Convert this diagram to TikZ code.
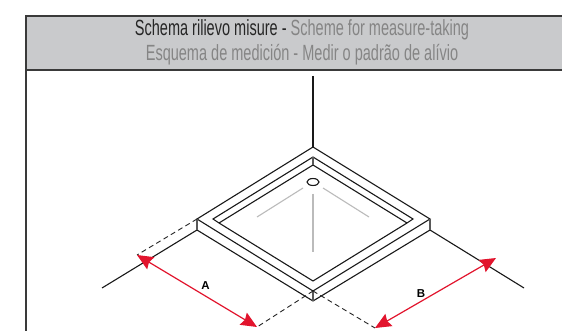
\documentclass[tikz,border=0pt]{standalone}
\usepackage{fontspec}
\setmainfont{Liberation Sans}
\newfontfamily\narrowfont[FakeStretch=0.66]{Liberation Sans}
\usetikzlibrary{arrows.meta,shapes.geometric}
\definecolor{hdrgray}{HTML}{C9CACC}
\definecolor{hdrtext}{HTML}{858585}
\definecolor{dimred}{HTML}{E2142D}
\definecolor{ruleline}{HTML}{3A3A3A}
\definecolor{drain}{HTML}{BBBBBB}
\tikzset{
  edge/.style={draw=black!90,line width=1.1pt,line join=miter},
  post/.style={draw=black!65,line width=1.1pt},
  ext/.style={draw=black!85,line width=0.9pt,dash pattern=on 5pt off 3.5pt},
  slope/.style={draw=drain,line width=1.1pt},
  dim/.style={draw=dimred,line width=1.2pt,{Stealth[length=16pt,width=14pt,inset=2pt]}-{Stealth[length=16pt,width=14pt,inset=2pt]}},
  title/.style={font=\narrowfont\fontsize{22}{24}\selectfont,anchor=center,inner sep=0pt},
  letter/.style={font=\bfseries\fontsize{11.5}{13}\selectfont,inner sep=0pt}
}
\begin{document}
\begin{tikzpicture}[x=1pt,y=-1pt]
\useasboundingbox[fill=white] (0,0) rectangle (562,331);
% header and frame
\fill[hdrgray] (26,16) rectangle (562,70);
\draw[ruleline,line width=1.2pt] (562,16) -- (26,16) -- (26,331);
\draw[ruleline,line width=1.2pt] (26,70) -- (562,70);
\node[title] (t1) at (302,30) {\textcolor{black!85}{Schema rilievo misure - }\textcolor{hdrtext}{Scheme for measure-taking}};
\node[title,text=hdrtext] (t2) at (302,55) {Esquema de medición - Medir o padrão de alívio};
% coordinates
\coordinate (wall) at (313,76);
\coordinate (T) at (313,147);
\coordinate (L) at (197,219);
\coordinate (R) at (430,219);
\coordinate (B) at (313,291);
\coordinate (LL) at (197,230);
\coordinate (RL) at (430,230);
\coordinate (BL) at (313,301);
\coordinate (rT) at (313,157);
\coordinate (rL) at (213,219);
\coordinate (rR) at (413,219);
\coordinate (iT) at (313,165);
\coordinate (iL) at (219,223);
\coordinate (iR) at (407,223);
\coordinate (iB) at (313,281);
\coordinate (floorL) at (102,288);
\coordinate (floorR) at (524,288);
\coordinate (dimAa) at (137,255);
\coordinate (dimAb) at (257,327);
\coordinate (dimBa) at (375,328);
\coordinate (dimBb) at (496,258);
% floor and wall lines
\draw[edge] (wall) -- (T);
\draw[edge] (LL) -- (floorL);
\draw[edge] (RL) -- (floorR);
% tray
\draw[edge] (T) -- (L) -- (B) -- (R) -- cycle;
\draw[edge] (LL) -- (BL) -- (RL);
\draw[edge] (rL) -- (rT) -- (rR) -- (iR) -- (iB) -- (iL) -- cycle;
\draw[edge] (iL) -- (iT) -- (iR);
\draw[post] (L) -- (LL);
\draw[post] (R) -- (RL);
\draw[post] (B) -- (BL);
\draw[post] (rT) -- (iT);
% drain and slopes
\node[draw=black!90,line width=1.1pt,ellipse,minimum width=12pt,minimum height=7pt,inner sep=0pt] (drainhole) at (313,182) {};
\coordinate (s1a) at (303,188); \coordinate (s1b) at (257,217);
\coordinate (s2a) at (323,188); \coordinate (s2b) at (369,217);
\coordinate (s3a) at (313,194); \coordinate (s3b) at (313,252);
\draw[slope] (s1a) -- (s1b);
\draw[slope] (s2a) -- (s2b);
\draw[slope] (s3a) -- (s3b);
% extension lines
\draw[ext] (L) -- (dimAa);
\draw[ext] (B) -- (dimAb);
\draw[ext] (B) -- (dimBa);
% dimensions
\draw[dim] (dimAa) -- (dimAb);
\draw[dim] (dimBa) -- (dimBb);
\node[letter] (labA) at (205.5,286) {A};
\node[letter] (labB) at (421,294) {B};
\end{tikzpicture}
\end{document}
